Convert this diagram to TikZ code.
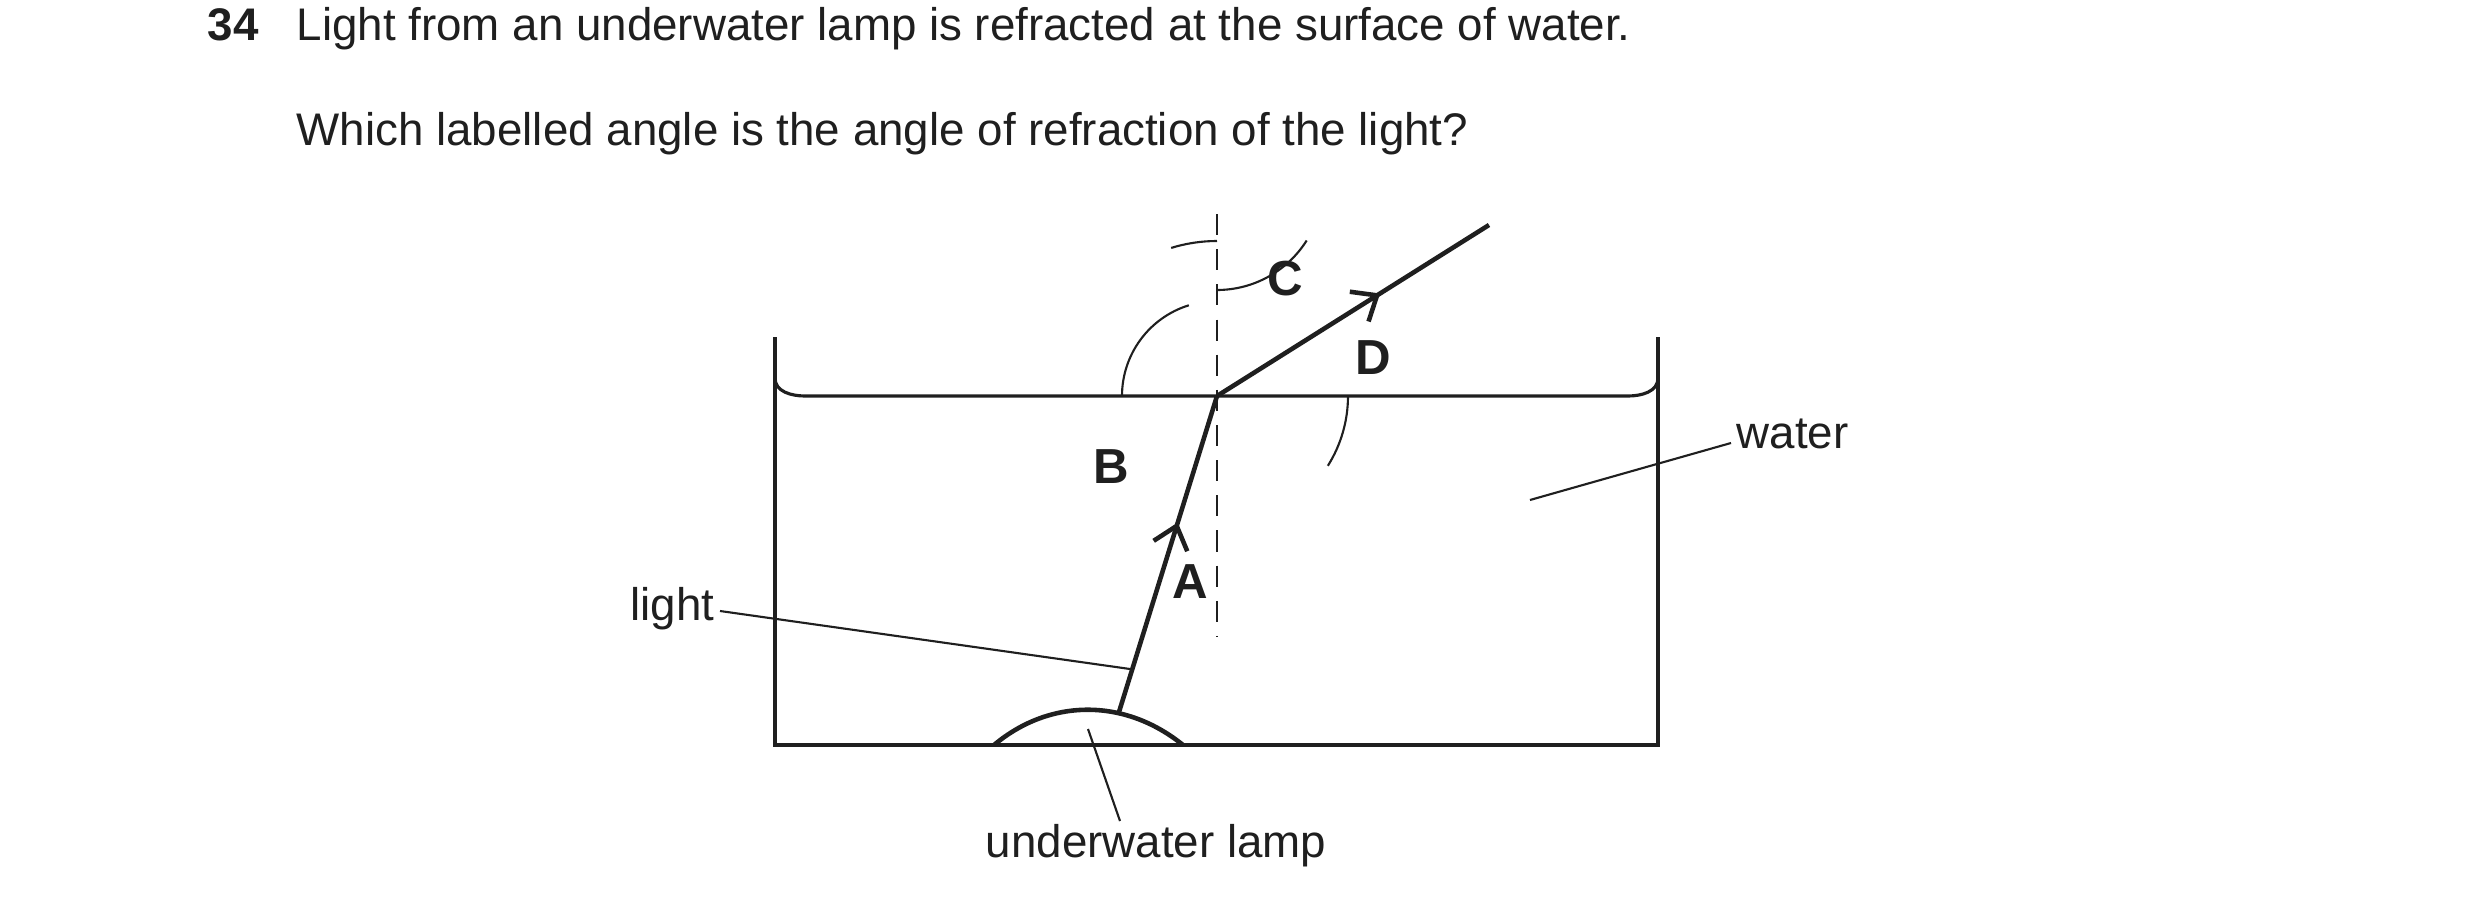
\documentclass[tikz,border=0pt]{standalone}
\usepackage{fontspec}
\setmainfont{Liberation Sans}
\usetikzlibrary{arrows.meta,decorations.markings,calc}
\begin{document}
\begin{tikzpicture}[x=0.01cm,y=-0.01cm,
  thick line/.style={line width=1.3pt,draw=black!88},
  thin line/.style={line width=0.6pt,draw=black!88},
  lbl/.style={font=\fontsize{14}{16}\selectfont\bfseries,text=black!88},
  txt/.style={font=\fontsize{13}{15}\selectfont,text=black!88,inner sep=0pt},
  barb/.style={decoration={markings,mark=at position #1 with {\arrow[line width=1.3pt]{Straight Barb[length=6pt,width=10pt]}}},postaction={decorate}}]
\useasboundingbox (0,0) rectangle (2480,909);
% texts
\node[txt,anchor=base west,font=\fontsize{13}{15}\selectfont\bfseries] (q) at (207,41) {34};
\node[txt,anchor=base west] (t1) at (296,41) {Light from an underwater lamp is refracted at the surface of water.};
\node[txt,anchor=base west] (t2) at (296,145) {Which labelled angle is the angle of refraction of the light?};
% tank
\draw[thick line] (775,337) -- (775,745) -- (1658,745) -- (1658,337);
\draw[thin line,line width=0.9pt] (775,378) to[out=-90,in=180] (805,396) -- (1628,396) to[out=0,in=-90] (1658,378);
% normal
\draw[thin line,dash pattern=on 6pt off 4pt] (1217,214) -- (1217,637);
\coordinate (P) at (1217,396);
\coordinate (S) at (1119,712);
\coordinate (E) at (1489,225);
% lamp
\draw[thick line] (994,745) .. controls (1050,698) and (1125,698) .. (1183,745);
% rays
\draw[thick line,barb=0.6] (S) -- (P);
\draw[thick line,barb=0.6] (P) -- (E);
% angles
\draw[thin line] (1217,290) arc[start angle=90,end angle=32.2,radius=106];
\draw[thin line] (1348,396) arc[start angle=0,end angle=32.2,radius=131];
\draw[thin line] (1122,396) arc[start angle=180,end angle=252.8,radius=95];
\draw[thin line] ($(P)+(252.8:155)$) arc[start angle=252.8,end angle=270,radius=155];
\node[lbl] (C) at (1285,279) {C};
\node[lbl] (D) at (1373,358) {D};
\node[lbl] (B) at (1111,467) {B};
\node[lbl] (A) at (1190,582) {A};
% labels
\node[txt,anchor=east] (light) at (715,609) {light};
\coordinate (l2) at (1130,669);
\draw[thin line] (light.east)++(5,2) -- (l2);
\node[txt,anchor=west] (water) at (1736,434) {water};
\coordinate (w2) at (1530,500);
\draw[thin line] (1731,443) -- (w2);
\node[txt] (lamp) at (1156,846) {underwater lamp};
\coordinate (u2) at (1088,729);
\draw[thin line] (1120,821) -- (u2);
\end{tikzpicture}
\end{document}
